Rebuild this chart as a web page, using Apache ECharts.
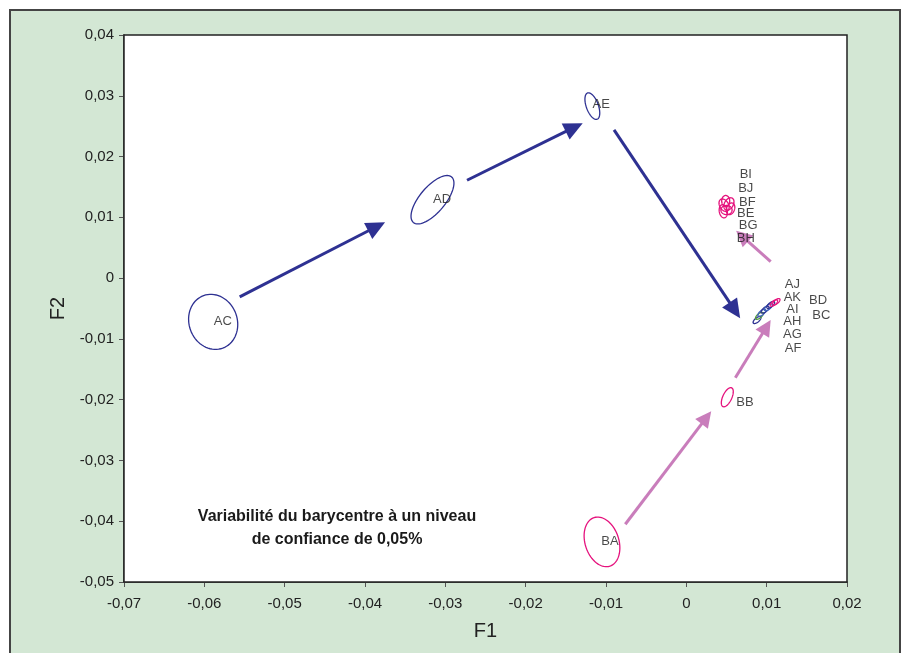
<!DOCTYPE html>
<html><head><meta charset="utf-8">
<script src="https://cdn.jsdelivr.net/npm/echarts@6/dist/echarts.min.js"></script>
<style>html,body{margin:0;padding:0;background:#fff}#c{width:904px;height:653px}</style>
</head><body><div id="c"></div>
<script>
// Axis ticks
const xTicks = [-0.07,-0.06,-0.05,-0.04,-0.03,-0.02,-0.01,0,0.01,0.02];
const yTicks = [-0.05,-0.04,-0.03,-0.02,-0.01,0,0.01,0.02,0.03,0.04];

// Confidence ellipses: centre (F1,F2), semi-axes (F1 units, F2 units), tilt (deg), group
const ellNames = ['AC','AD','AE','BA','BB','BE','BF','BG','BH','BI','BJ','AF','AG','AH','AI','AJ','AK','BC','BD'];
const ellX     = [-0.0589,-0.0316,-0.0117,-0.0105,0.0051,0.0047,0.0053,0.0050,0.0046,0.0055,0.0049,0.0088,0.0091,0.0094,0.0098,0.0102,0.0105,0.0109,0.0112];
const ellY     = [-0.0072,0.0129,0.0283,-0.0434,-0.0196,0.0120,0.0122,0.0112,0.0110,0.0114,0.0127,-0.0069,-0.0062,-0.0057,-0.0052,-0.0048,-0.0044,-0.0041,-0.0039];
const ellA     = [0.0030,0.0037,0.00075,0.0021,0.00056,0.00055,0.00055,0.0007,0.0005,0.0005,0.0005,0.0006,0.0006,0.0006,0.0006,0.0006,0.0006,0.00056,0.00056];
const ellB     = [0.0046,0.0021,0.0023,0.0042,0.0017,0.0011,0.0011,0.00075,0.0011,0.001,0.0009,0.00035,0.00035,0.00035,0.00035,0.00035,0.00035,0.00033,0.00033];
const ellAngle = [20,50,20,18,-25,30,-30,0,10,-20,0,40,40,40,40,40,40,40,40];
const ellGroup = [0,0,0,1,1,1,1,1,1,1,1,0,2,3,0,3,0,1,1];

// Point labels (text anchor positions)
const lblNames = ['AC','AD','AE','BA','BB','BI','BJ','BF','BE','BG','BH','AJ','AK','AI','AH','AG','AF','BD','BC'];
const lblX     = [-0.0577,-0.0304,-0.0106,-0.0095,0.0073,0.0074,0.0074,0.0076,0.0074,0.0077,0.0074,0.0132,0.0132,0.0132,0.0132,0.0132,0.0133,0.0164,0.0168];
const lblY     = [-0.0072,0.0130,0.0286,-0.0433,-0.0205,0.0170,0.0148,0.0125,0.0107,0.0087,0.0066,-0.0010,-0.0031,-0.0051,-0.0071,-0.0092,-0.0115,-0.0036,-0.0061];

// Trajectory arrows: start (F1,F2) -> end (F1,F2), group
const arrX1 = [-0.0556,-0.0273,-0.0090,-0.0076,0.0061,0.0105];
const arrY1 = [-0.0031,0.0161,0.0244,-0.0405,-0.0164,0.0027];
const arrX2 = [-0.0375,-0.0129,0.0067,0.0031,0.0105,0.0062];
const arrY2 = [0.0092,0.0255,-0.0066,-0.0219,-0.0069,0.0078];
const arrGroup = [0,0,0,1,1,1];

const ellColors = ['#2e3192','#e5127d','#4f9a3c','#3f62b8'];
const arrColors = ['#2e3192','#c97dbb'];
const FONT = 'Liberation Sans, Arial, Helvetica, sans-serif';

const fmt = v => { if (Math.abs(v) < 1e-9) return '0'; return v.toFixed(2).replace('.', ','); };

const ellData = ellNames.map((n,i)=>[ellX[i],ellY[i],ellA[i],ellB[i],ellAngle[i],ellGroup[i]]);
const arrData = arrX1.map((v,i)=>[arrX1[i],arrY1[i],arrX2[i],arrY2[i],arrGroup[i]]);
const lblData = lblNames.map((n,i)=>({name:n,value:[lblX[i],lblY[i]]}));

const chart = echarts.init(document.getElementById('c'), null, {renderer:'canvas'});
chart.setOption({
  animation:false,
  backgroundColor:'#fff',
  graphic:[
    {type:'rect', shape:{x:10,y:10,width:890,height:660}, style:{fill:'#d3e7d4', stroke:'#444', lineWidth:2}, z:-10},
    {type:'text', x:337, y:517, style:{text:'Variabilité du barycentre à un niveau', font:'bold 16px '+FONT, fill:'#1a1a1a', align:'center', verticalAlign:'middle'}, z:10},
    {type:'text', x:337, y:540, style:{text:'de confiance de 0,05%', font:'bold 16px '+FONT, fill:'#1a1a1a', align:'center', verticalAlign:'middle'}, z:10}
  ],
  grid:{left:124, top:35, width:723, height:547, show:true, backgroundColor:'#fff', borderColor:'#222', borderWidth:1.5, z:1},
  xAxis:{type:'value', min:xTicks[0], max:xTicks[xTicks.length-1], interval:0.01,
    name:'F1', nameLocation:'middle', nameGap:39, nameTextStyle:{fontSize:20, color:'#222', fontFamily:FONT},
    axisLine:{show:true, onZero:false, lineStyle:{color:'#222', width:1.5}},
    axisTick:{show:true, length:5, lineStyle:{color:'#555'}},
    axisLabel:{formatter:fmt, fontSize:15, color:'#222', fontFamily:FONT, margin:14},
    splitLine:{show:false}},
  yAxis:{type:'value', min:yTicks[0], max:yTicks[yTicks.length-1], interval:0.01,
    name:'F2', nameLocation:'middle', nameGap:54, nameTextStyle:{fontSize:20, color:'#222', fontFamily:FONT},
    axisLine:{show:true, onZero:false, lineStyle:{color:'#222', width:1.5}},
    axisTick:{show:true, length:5, lineStyle:{color:'#555'}},
    axisLabel:{formatter:fmt, fontSize:15, color:'#222', fontFamily:FONT, margin:10},
    splitLine:{show:false}},
  series:[
    {type:'custom', coordinateSystem:'cartesian2d', data:ellData, encode:{x:0,y:1}, z:3, silent:true,
      renderItem:(params, api)=>{
        const c = api.coord([api.value(0), api.value(1)]);
        const a = api.size([api.value(2),0])[0];
        const b = api.size([0,api.value(3)])[1];
        const th = api.value(4)*Math.PI/180;
        const col = ellColors[api.value(5)];
        const pts=[];
        for(let k=0;k<72;k++){
          const t=k/72*2*Math.PI;
          const x=a*Math.cos(t), y=b*Math.sin(t);
          pts.push([c[0]+x*Math.cos(th)+y*Math.sin(th), c[1]-x*Math.sin(th)+y*Math.cos(th)]);
        }
        return {type:'polygon', shape:{points:pts}, style:{fill:'none', stroke:col, lineWidth:1.3}};
      }},
    {type:'custom', coordinateSystem:'cartesian2d', data:arrData, encode:{x:[0,2],y:[1,3]}, z:4, silent:true,
      renderItem:(params, api)=>{
        const p1 = api.coord([api.value(0), api.value(1)]);
        const p2 = api.coord([api.value(2), api.value(3)]);
        const g = api.value(4);
        const col = arrColors[g];
        const L = g===0?19:16, W = g===0?9:8;
        const dx=p2[0]-p1[0], dy=p2[1]-p1[1], len=Math.hypot(dx,dy);
        const ux=dx/len, uy=dy/len;
        const bx=p2[0]-ux*L, by=p2[1]-uy*L;
        return {type:'group', children:[
          {type:'line', shape:{x1:p1[0],y1:p1[1],x2:bx+ux*2,y2:by+uy*2}, style:{stroke:col, lineWidth:3}},
          {type:'polygon', shape:{points:[[p2[0],p2[1]],[bx-uy*W,by+ux*W],[bx+uy*W,by-ux*W]]}, style:{fill:col}}
        ]};
      }},
    {type:'scatter', data:lblData, symbolSize:0, z:5, silent:true,
      label:{show:true, position:'inside', formatter:p=>p.name, fontSize:13, color:'#1a1a1a', fontFamily:FONT}}
  ]
});
</script></body></html>
